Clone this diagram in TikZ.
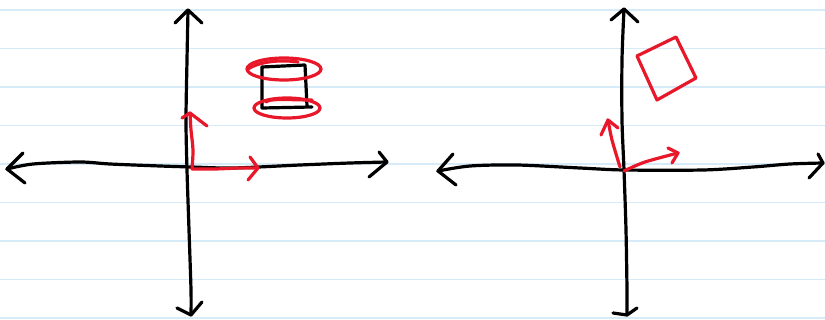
\documentclass[tikz,border=0pt]{standalone}
\begin{document}
\begin{tikzpicture}[x=1pt,y=-1pt,
  paperline/.style={draw={rgb,255:red,214;green,234;blue,248}, line width=1.5pt},
  ink/.style={draw=black, line width=3.2pt, line cap=round, line join=round},
  redink/.style={draw={rgb,255:red,232;green,24;blue,42}, line width=3.2pt, line cap=round, line join=round}]
\useasboundingbox (0,0) rectangle (825,320);
% notebook lines
\foreach \yy in {10,48.5,87,125.5,164,202.5,241,279.5,318}
  \draw[paperline] (0,\yy) -- (825,\yy);
% ---------- left panel ----------
\coordinate (LT) at (188,10);
\coordinate (LB) at (191,315);
\coordinate (LL) at (7,169);
\coordinate (LR) at (387,162);
\draw[ink] plot[smooth] coordinates {(LT) (187,60) (186,120) (187,170) (189,230) (191,290) (LB)};
\draw[ink] (175,23) -- (LT) -- (202,23);
\draw[ink] (177,308) -- (LB) -- (202,302);
\draw[ink] plot[smooth] coordinates {(LL) (33,164) (80,162) (110,164) (160,166) (192,167) (233,168) (300,165) (350,163) (LR)};
\draw[ink] (23,153) -- (LL) -- (25,183);
\draw[ink] (379,152) -- (LR) -- (369,177);
% red frame arrows
\coordinate (LO) at (192,169);
\coordinate (LY) at (190,113);
\coordinate (LX) at (258,168);
\draw[redink] plot[smooth] coordinates {(LO) (193,150) (191,130) (LY)};
\draw[redink] (182,118) -- (LY) -- (207,126);
\draw[redink] plot[smooth] coordinates {(LO) (215,169) (240,168) (LX)};
\draw[redink] (250,157) -- (LX) -- (248,180);
% black square
\coordinate (S1) at (262,67);
\coordinate (S2) at (305,65);
\coordinate (S3) at (307,106);
\coordinate (S4) at (262,108);
\draw[ink] (S1) -- (S2) -- (S3);
\draw[ink] (S1) -- (S4) -- (312,107);
% red ellipses
\draw[redink] (284,69) ellipse [x radius=37, y radius=11];
\draw[redink] (248,69) .. controls (262,60) and (285,60) .. (298,62);
\draw[redink] (287,108) ellipse [x radius=33, y radius=10];
\draw[redink] (266,102) .. controls (270,98) and (290,100) .. (312,100);
% ---------- right panel ----------
\coordinate (RT) at (624,9);
\coordinate (RB) at (627,315);
\coordinate (RL) at (438,171);
\coordinate (RR) at (823,163);
\draw[ink] plot[smooth] coordinates {(RT) (622,60) (622,120) (624,170) (626,230) (627,290) (RB)};
\draw[ink] (611,20) -- (RT) -- (638,22);
\draw[ink] (613,313) -- (RB) -- (637,308);
\draw[ink] plot[smooth] coordinates {(RL) (470,166) (517,165) (580,168) (624,170) (703,170) (753,167) (790,164) (RR)};
\draw[ink] (453,154) -- (RL) -- (456,185);
\draw[ink] (818,154) -- (RR) -- (809,178);
% red rotated frame
\coordinate (RO) at (624,171);
\coordinate (RX) at (678,153);
\coordinate (RY) at (608,120);
\draw[redink] plot[smooth] coordinates {(RO) (645,162) (RX)};
\draw[redink] (668,148) -- (RX) -- (672,163);
\draw[redink] plot[smooth] coordinates {(620,167) (612,140) (RY)};
\draw[redink] (601,135) -- (RY) -- (618,128);
% red rotated square
\coordinate (Q1) at (637,56);
\coordinate (Q2) at (676,37);
\coordinate (Q3) at (696,78);
\coordinate (Q4) at (657,100);
\draw[redink] (Q1) -- (Q2) -- (Q3) -- (Q4) -- cycle;
\end{tikzpicture}
\end{document}
